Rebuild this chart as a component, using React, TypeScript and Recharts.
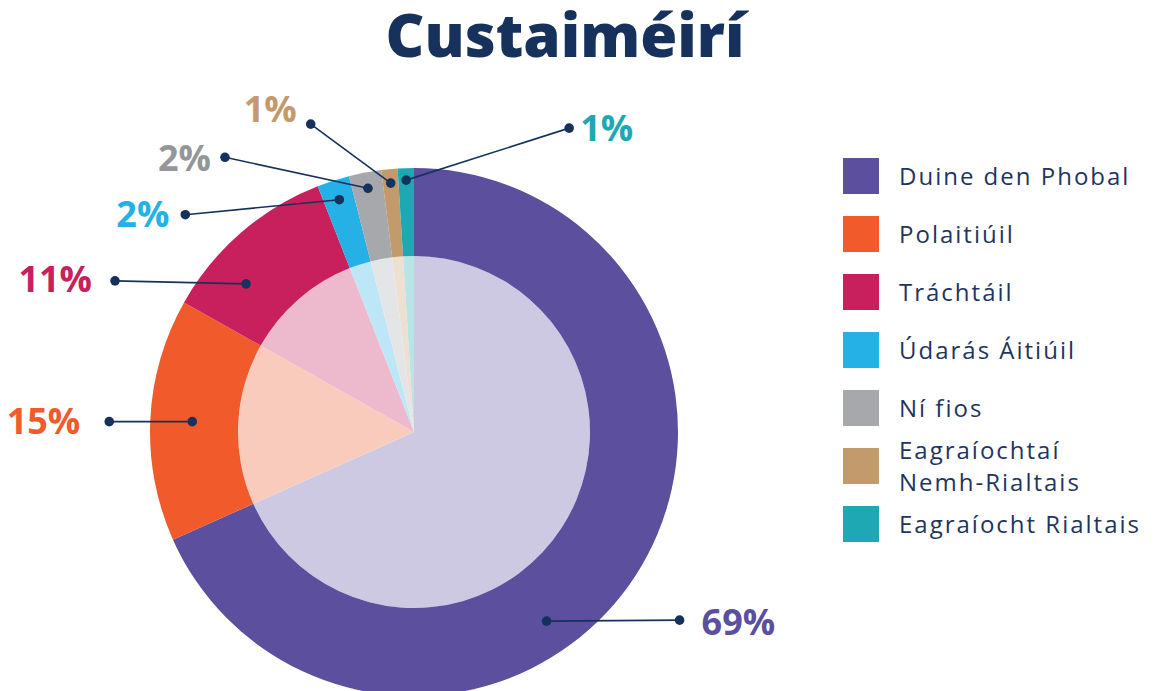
import { PieChart, Pie, Cell, Legend } from "recharts"

const categories = [
    "Duine den Phobal",
    "Polaitiúil",
    "Tráchtáil",
    "Údarás Áitiúil",
    "Ní fios",
    "Eagraíochtaí Nemh-Rialtais",
    "Eagraíocht Rialtais",
]
const shares = [69, 15, 11, 2, 2, 1, 1]
const percentLabels = ["69%", "15%", "11%", "2%", "2%", "1%", "1%"]

const RING = ["#5b4f9e", "#f15a2b", "#c81f5d", "#25b0e6", "#a7a8ac", "#c39a6b", "#1ea8b3"]
const PALE = ["#cdc9e3", "#f9cbbd", "#edbacd", "#bde6f7", "#e4e5e7", "#eee0d1", "#b9e4e6"]
const LABEL_COLORS = ["#5b4f9e", "#f15a2b", "#c81f5d", "#25b0e6", "#959699", "#c39a6b", "#1ea8b3"]
const NAVY = "#16325c"
const FONT = "'Open Sans', 'Noto Sans', sans-serif"

// leader line layout per slice: angle shift from mid angle, dot radius,
// end dot offset from first dot, text offset from end dot
const leaders = [
    { shift: -22, r: 231, dx: 133, dy: -1, tx: 22, ty: 1, anchor: "start" },
    { shift: 0, r: 222, dx: -83, dy: 0, tx: -29, ty: -1, anchor: "end" },
    { shift: 7.6, r: 224, dx: -131, dy: -3, tx: -23, ty: -2, anchor: "end" },
    { shift: 0, r: 244, dx: -154, dy: 15, tx: -16, ty: -1, anchor: "end" },
    { shift: 0, r: 248, dx: -143, dy: -31, tx: -14, ty: 0, anchor: "end" },
    { shift: 0, r: 250, dx: -80, dy: -59, tx: -14, ty: -16, anchor: "end" },
    { shift: 0, r: 252, dx: 163, dy: -52, tx: 11, ty: -1, anchor: "start" },
]

const data = categories.map((name, i) => ({ name, value: shares[i] }))

const RAD = Math.PI / 180

const renderLabel = (props: any) => {
    const { cx, cy, midAngle, index } = props
    const l = leaders[index]
    const a = (midAngle + l.shift) * RAD
    const x1 = cx + l.r * Math.cos(-a)
    const y1 = cy + l.r * Math.sin(-a)
    const x2 = x1 + l.dx
    const y2 = y1 + l.dy
    return (
        <g key={`lbl-${index}`}>
            <line x1={x1} y1={y1} x2={x2} y2={y2} stroke={NAVY} strokeWidth={1.6} />
            <circle cx={x1} cy={y1} r={4.8} fill={NAVY} />
            <circle cx={x2} cy={y2} r={4.8} fill={NAVY} />
            <text
                x={x2 + l.tx}
                y={y2 + l.ty}
                textAnchor={l.anchor as any}
                dominantBaseline="central"
                fill={LABEL_COLORS[index]}
                fontFamily={FONT}
                fontWeight={700}
                fontSize={36}
            >
                {percentLabels[index]}
            </text>
        </g>
    )
}

const LegendBox = () => (
    <div style={{ fontFamily: FONT, color: "#1e3560" }}>
        {categories.map((name, i) => (
            <div key={name} style={{ display: "flex", alignItems: "center", height: 58 }}>
                <div style={{ width: 36, height: 36, background: RING[i], flexShrink: 0 }} />
                <div style={{ marginLeft: 20, fontSize: 24, lineHeight: "32px", letterSpacing: 2, width: 280 }}>
                    {name === "Eagraíochtaí Nemh-Rialtais" ? (
                        <>Eagraíochtaí<br />Nemh-Rialtais</>
                    ) : name}
                </div>
            </div>
        ))}
    </div>
)

export default function App() {
    return (
        <div style={{ position: "absolute", left: 0, top: 0, width: 1167, height: 691, background: "#fff", overflow: "hidden" }}>
            <svg width={1167} height={80} style={{ position: "absolute", left: 0, top: 0 }}>
                <text
                    x={565}
                    y={57}
                    textAnchor="middle"
                    fill={NAVY}
                    fontFamily={FONT}
                    fontWeight={800}
                    fontSize={60}
                >
                    Custaiméirí
                </text>
            </svg>
            <PieChart width={1167} height={691} margin={{ top: 0, right: 0, bottom: 0, left: 0 }}>
                <Pie
                    data={data}
                    dataKey="value"
                    cx={414}
                    cy={432}
                    innerRadius={0}
                    outerRadius={176}
                    startAngle={90}
                    endAngle={-270}
                    stroke="none"
                    isAnimationActive={false}
                >
                    {data.map((d, i) => (
                        <Cell key={`pale-${i}`} fill={PALE[i]} />
                    ))}
                </Pie>
                <Pie
                    data={data}
                    dataKey="value"
                    cx={414}
                    cy={432}
                    innerRadius={176}
                    outerRadius={264}
                    startAngle={90}
                    endAngle={-270}
                    stroke="none"
                    label={renderLabel}
                    labelLine={false}
                    isAnimationActive={false}
                >
                    {data.map((d, i) => (
                        <Cell key={`ring-${i}`} fill={RING[i]} />
                    ))}
                </Pie>
                <Legend
                    content={() => <LegendBox />}
                    wrapperStyle={{ left: 843, top: 147, width: 320, bottom: "auto" }}
                />
            </PieChart>
        </div>
    )
}
